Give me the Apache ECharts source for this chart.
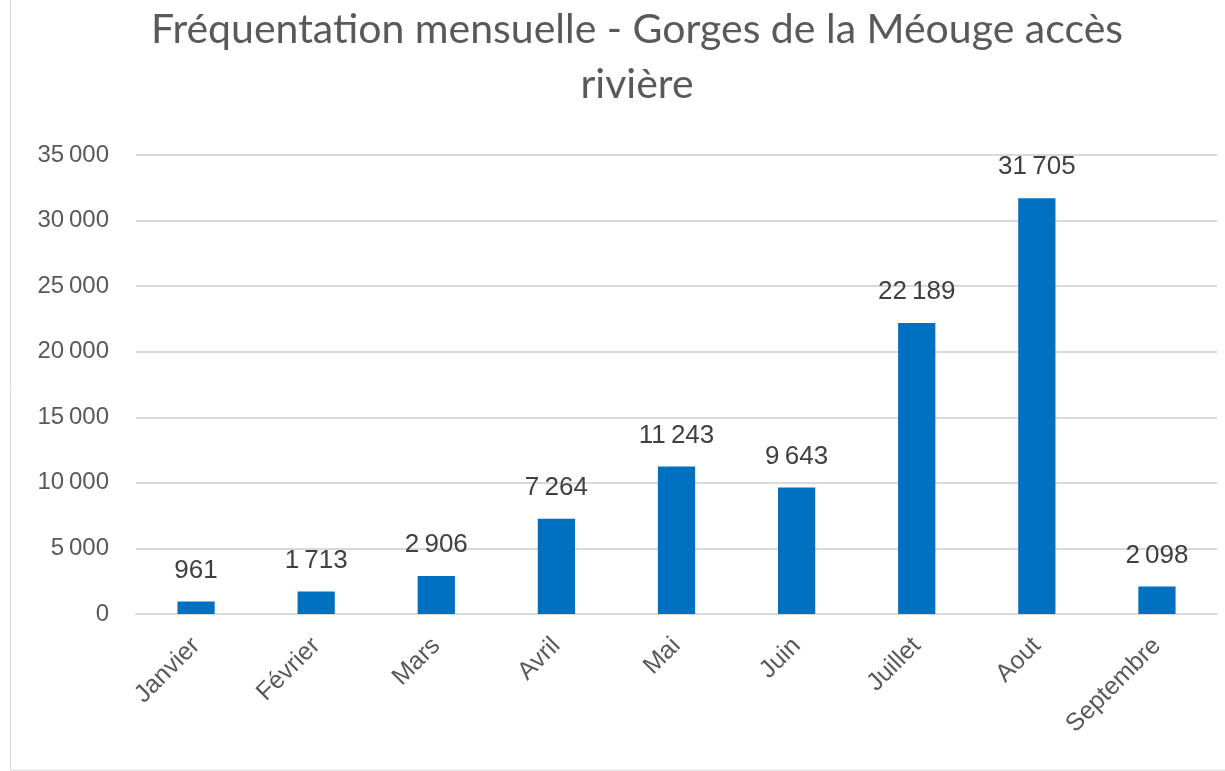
<!DOCTYPE html>
<html><head><meta charset="utf-8">
<script src="https://cdn.jsdelivr.net/npm/echarts@6/dist/echarts.min.js"></script>
<style>html,body{margin:0;padding:0;background:#fff;}#c{width:1225px;height:771px;}</style>
</head><body><div id="c"></div>
<script>
const titleText = "Fréquentation mensuelle - Gorges de la Méouge accès\nrivière";
const categories = ["Janvier","Février","Mars","Avril","Mai","Juin","Juillet","Aout","Septembre"];
const visitors = [961, 1713, 2906, 7264, 11243, 9643, 22189, 31705, 2098];
const yTicks = [0, 5000, 10000, 15000, 20000, 25000, 30000, 35000];

function fmt(v){ return String(v).replace(/\B(?=(\d{3})+(?!\d))/g, "\u2009"); }

const chart = echarts.init(document.getElementById('c'), null, {renderer:'canvas'});
chart.setOption({
  backgroundColor: '#ffffff',
  animation: false,
  title: {
    text: titleText, left: 632, top: -3, textAlign: 'center',
    textStyle: {fontFamily: 'Lato', fontWeight: 'normal', fontSize: 41, color: '#595959', lineHeight: 55}
  },
  grid: {left: 136, right: 8, top: 155, bottom: 157, containLabel: false},
  xAxis: {
    type: 'category', data: categories,
    axisLine: {show: true, lineStyle: {color: '#d9d9d9', width: 2}},
    axisTick: {show: false},
    axisLabel: {rotate: 45, color: '#595959', fontFamily: 'Liberation Sans', fontSize: 25, margin: 28, interval: 0}
  },
  yAxis: {
    type: 'value', min: yTicks[0], max: yTicks[yTicks.length-1], interval: 5000,
    axisLine: {show: false}, axisTick: {show: false},
    splitLine: {lineStyle: {color: '#d9d9d9', width: 2}},
    axisLabel: {color: '#595959', fontFamily: 'Liberation Sans', fontSize: 24, margin: 27, formatter: v => fmt(v)}
  },
  series: [{
    type: 'bar', data: visitors, barWidth: '31%',
    itemStyle: {color: '#0070C0'},
    label: {show: true, position: 'top', distance: 18, color: '#404040', fontFamily: 'Liberation Sans', fontSize: 26, formatter: p => fmt(p.value)}
  }],
  graphic: [
    {type: 'rect', shape: {x: 10.5, y: -2, width: 1300, height: 772}, style: {fill: 'none', stroke: '#d9d9d9', lineWidth: 1}}
  ]
});
</script></body></html>
